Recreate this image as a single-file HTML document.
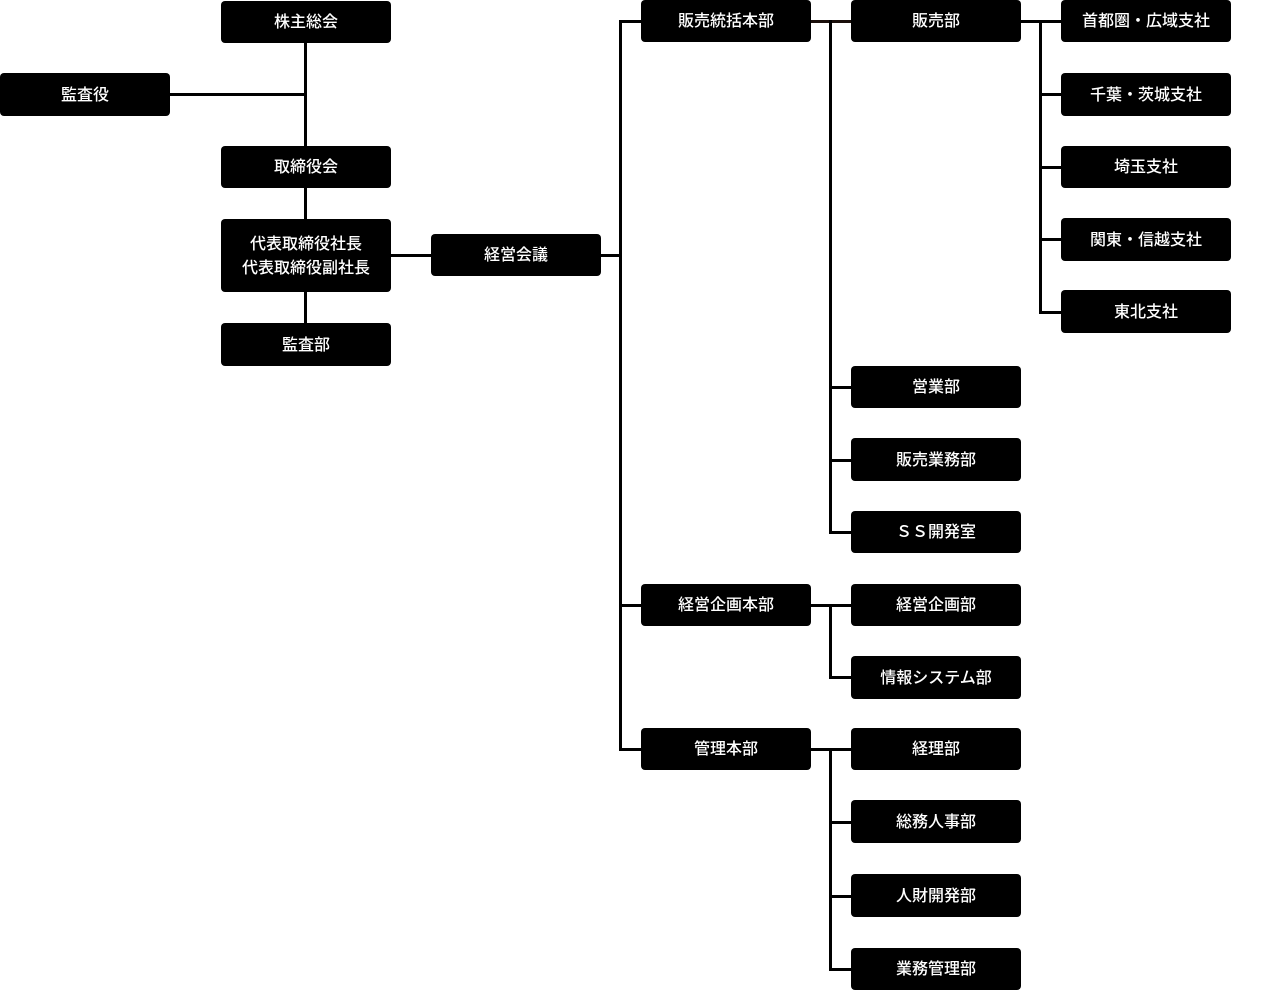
<!DOCTYPE html>
<html><head><meta charset="utf-8"><style>
body{margin:0;width:1262px;height:993px;background:#fff;position:relative;overflow:hidden;font-family:"Liberation Sans","Noto Sans CJK JP",sans-serif}
.b{position:absolute;background:#000;color:#fff;border-radius:4px;width:170px;display:flex;align-items:center;justify-content:center;text-align:center;font-size:16px;line-height:24px;padding-top:2px;box-sizing:border-box;font-weight:500}
.l{position:absolute;background:#000}
</style></head><body>
<div class="l" style="left:304px;top:42px;width:3px;height:282px"></div>
<div class="l" style="left:170px;top:93px;width:136px;height:3px"></div>
<div class="l" style="left:390px;top:254px;width:42px;height:3px"></div>
<div class="l" style="left:600px;top:254px;width:22px;height:3px"></div>
<div class="l" style="left:619px;top:20px;width:3px;height:731px"></div>
<div class="l" style="left:619px;top:20px;width:23px;height:3px"></div>
<div class="l" style="left:619px;top:604px;width:23px;height:3px"></div>
<div class="l" style="left:619px;top:748px;width:23px;height:3px"></div>
<div class="l" style="left:810px;top:20px;width:42px;height:3px;background:#1a0f0a"></div>
<div class="l" style="left:829px;top:20px;width:3px;height:514px"></div>
<div class="l" style="left:829px;top:386px;width:23px;height:3px"></div>
<div class="l" style="left:829px;top:459px;width:23px;height:3px"></div>
<div class="l" style="left:829px;top:531px;width:23px;height:3px"></div>
<div class="l" style="left:1020px;top:20px;width:42px;height:3px"></div>
<div class="l" style="left:1039px;top:20px;width:3px;height:294px"></div>
<div class="l" style="left:1039px;top:93px;width:23px;height:3px"></div>
<div class="l" style="left:1039px;top:166px;width:23px;height:3px"></div>
<div class="l" style="left:1039px;top:238px;width:23px;height:3px"></div>
<div class="l" style="left:1039px;top:311px;width:23px;height:3px"></div>
<div class="l" style="left:810px;top:604px;width:42px;height:3px"></div>
<div class="l" style="left:829px;top:604px;width:3px;height:75px"></div>
<div class="l" style="left:829px;top:676px;width:23px;height:3px"></div>
<div class="l" style="left:810px;top:748px;width:42px;height:3px"></div>
<div class="l" style="left:829px;top:748px;width:3px;height:223px"></div>
<div class="l" style="left:829px;top:821px;width:23px;height:3px"></div>
<div class="l" style="left:829px;top:895px;width:23px;height:3px"></div>
<div class="l" style="left:829px;top:968px;width:23px;height:3px"></div>
<div class="b" style="left:221px;top:1px;height:42px">株主総会</div>
<div class="b" style="left:0;top:73px;height:43px">監査役</div>
<div class="b" style="left:221px;top:146px;height:42px">取締役会</div>
<div class="b" style="left:221px;top:219px;height:73px">代表取締役社長<br>代表取締役副社長</div>
<div class="b" style="left:221px;top:323px;height:43px">監査部</div>
<div class="b" style="left:431px;top:234px;height:42px">経営会議</div>
<div class="b" style="left:641px;top:0;height:42px">販売統括本部</div>
<div class="b" style="left:851px;top:0;height:42px">販売部</div>
<div class="b" style="left:1061px;top:0;height:42px">首都圏・広域支社</div>
<div class="b" style="left:1061px;top:73px;height:43px">千葉・茨城支社</div>
<div class="b" style="left:1061px;top:146px;height:42px">埼玉支社</div>
<div class="b" style="left:1061px;top:218px;height:43px">関東・信越支社</div>
<div class="b" style="left:1061px;top:290px;height:43px">東北支社</div>
<div class="b" style="left:851px;top:366px;height:42px">営業部</div>
<div class="b" style="left:851px;top:438px;height:43px">販売業務部</div>
<div class="b" style="left:851px;top:511px;height:42px">ＳＳ開発室</div>
<div class="b" style="left:641px;top:584px;height:42px">経営企画本部</div>
<div class="b" style="left:851px;top:584px;height:42px">経営企画部</div>
<div class="b" style="left:851px;top:656px;height:43px">情報システム部</div>
<div class="b" style="left:641px;top:728px;height:42px">管理本部</div>
<div class="b" style="left:851px;top:728px;height:42px">経理部</div>
<div class="b" style="left:851px;top:800px;height:43px">総務人事部</div>
<div class="b" style="left:851px;top:874px;height:43px">人財開発部</div>
<div class="b" style="left:851px;top:948px;height:42px">業務管理部</div>
</body></html>
